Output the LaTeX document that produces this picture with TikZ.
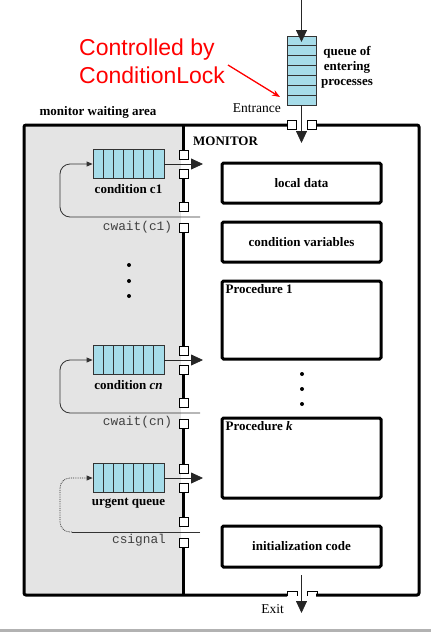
\documentclass[tikz,border=0pt]{standalone}
\usepackage{fontspec}
\setmainfont{Liberation Serif}
\setmonofont{Liberation Mono}
\newfontfamily\lockfont{Liberation Sans}
\usetikzlibrary{positioning,calc,arrows.meta}
\definecolor{qblue}{RGB}{166,220,233}
\definecolor{areagray}{RGB}{228,228,228}

\begin{document}
\begin{tikzpicture}[x=1pt,y=-1pt,
  lbl/.style={font=\fontsize{13}{15}\selectfont\bfseries,inner sep=0},
  plain/.style={font=\fontsize{13.5}{15}\selectfont,inner sep=0},
  waitlbl/.style={font=\fontsize{12.8}{15}\selectfont\ttfamily,text=black!75,inner sep=0},
  queue/.style={draw=black!80,fill=qblue,line width=0.8pt,minimum width=71pt,
    minimum height=29pt,inner sep=0,
    path picture={\foreach \i in {1,...,6}
      \draw[line width=0.8pt] ($(path picture bounding box.south west)!\i/7!(path picture bounding box.south east)$)
        -- ($(path picture bounding box.north west)!\i/7!(path picture bounding box.north east)$);}},
  inqueue/.style={draw=black!80,fill=qblue,line width=0.8pt,minimum width=29pt,
    minimum height=69pt,inner sep=0,
    path picture={\foreach \i in {1,...,6}
      \draw[line width=0.8pt] ($(path picture bounding box.north west)!\i/7!(path picture bounding box.south west)$)
        -- ($(path picture bounding box.north east)!\i/7!(path picture bounding box.south east)$);}},
  gate/.style={draw,fill=white,line width=0.7pt,minimum size=9pt,inner sep=0},
  gap/.style={fill=white,minimum width=5pt,minimum height=11pt,inner sep=0},
  box/.style={draw,line width=3pt,rounded corners=1.5pt,minimum width=159pt,inner sep=0,
    font=\fontsize{13}{15}\selectfont\bfseries},
  bigarrow/.style={-{Triangle[length=12pt,width=11pt]},line width=0.8pt,draw=black!85},
  loopline/.style={-{Triangle[length=6pt,width=5pt]},line width=0.8pt,draw=black!80,rounded corners=10pt}]
 \useasboundingbox (0,0) rectangle (431,632);
 \fill[black!30] (0,629) rectangle (431,632);

 % waiting area and monitor walls
 \fill[areagray] (24,125) rectangle (183.5,595);
 \draw[line width=3pt,rounded corners=2pt] (287,125) -- (24,125) -- (24,595) -- (287,595);
 \draw[line width=3pt,rounded corners=2pt] (316,595) -- (419,595) -- (419,125) -- (316,125);
 \draw[line width=3pt] (183.5,125) -- (183.5,595);

 \node[lbl] (area) at (98,112) {monitor waiting area};
 \node[lbl,anchor=west] (mon) at (193,141) {MONITOR};

 % entrance
 \node[inqueue] (qe) at (301.5,70.5) {};
 \coordinate (top) at (301.5,0);
 \coordinate (qin) at (301.5,42);
 \coordinate (enter) at (301.5,143);
 \draw[bigarrow] (top) -- (qin);
 \draw[bigarrow] (qe) -- (enter);
 \node[gate] (ent1) at (291.5,125) {};
 \node[gate] (ent2) at (311.5,125) {};
 \node[lbl,align=center] (qtext) at (347,67) {queue of\\entering\\processes};
 \node[plain,anchor=east] (entr) at (281,108) {Entrance};

 \node[font=\lockfont\fontsize{23}{27.3}\selectfont,text=red,align=left,anchor=west,inner sep=0]
   (lock) at (79,61.3) {Controlled by\\ConditionLock};
 \coordinate (lockfrom) at (228,65);
 \coordinate (lockto) at (280,97);
 \draw[red,line width=1.3pt,-{Stealth[length=8pt,width=6pt]}] (lockfrom) -- (lockto);

 % gates in the wall
 \foreach \g/\y in {a/164,c/360,e/478} {
   \node[gap] (gap\g) at (183.5,\y) {};
   \node[gate] (\g1) at (183.5,\y-9.5) {};
   \node[gate] (\g2) at (183.5,\y+9.5) {};
 }
 \foreach \g/\y in {b/217,d/413,f/532} {
   \node[gap] (gap\g) at (183.5,\y) {};
   \node[gate] (\g1) at (183.5,\y-10.5) {};
   \node[gate] (\g2) at (183.5,\y+10.5) {};
 }

 % condition c1
 \node[queue] (q1) at (128.5,164) {};
 \node[lbl,below=5pt of q1] (q1lbl) {condition c1};
 \coordinate (t1) at (203,164);
 \coordinate (w1) at (200,217);
 \draw[bigarrow] (q1) -- (t1);
 \draw[loopline] (w1) -- (60,217) -- (60,164) -- (q1);
 \node[waitlbl] (q1wait) at (137.5,227) {cwait(c1)};

 \foreach \y in {265,281,296} \fill (129,\y) circle[radius=2pt];

 % condition cn
 \node[queue] (qn) at (128.5,360) {};
 \node[lbl,below=5pt of qn] (qnlbl) {condition \textit{cn}};
 \coordinate (tn) at (203,360);
 \coordinate (wn) at (200,413);
 \draw[bigarrow] (qn) -- (tn);
 \draw[loopline] (wn) -- (60,413) -- (60,360) -- (qn);
 \node[waitlbl] (qnwait) at (137.5,422) {cwait(cn)};

 % urgent queue
 \node[queue] (qu) at (128.5,478) {};
 \node[lbl,below=5pt of qu] (qulbl) {urgent queue};
 \coordinate (tu) at (203,478);
 \coordinate (wu) at (200,532);
 \coordinate (ucorner) at (72,532);
 \draw[bigarrow] (qu) -- (tu);
 \draw[line width=0.8pt,draw=black!80] (wu) -- (ucorner);
 \draw[loopline,densely dotted] (ucorner) -- (60,532) -- (60,478) -- (qu);
 \node[waitlbl] (qusig) at (139,540) {csignal};

 % monitor contents
 \node[box,minimum height=40pt] (data) at (301.5,183) {local data};
 \node[box,minimum height=40pt] (cvars) at (301.5,242) {condition variables};
 \node[box,minimum height=78pt] (proc1) at (301.5,320) {};
 \node[lbl,anchor=north west] (p1lbl) at ($(proc1.north west)+(5,5)$) {Procedure 1};
 \foreach \y in {374,389,404} \fill (302,\y) circle[radius=2pt];
 \node[box,minimum height=80pt] (prock) at (301.5,458) {};
 \node[lbl,anchor=north west] (pklbl) at ($(prock.north west)+(5,5)$) {Procedure \textit{k}};
 \node[box,minimum height=41pt] (init) at (301.5,546.5) {initialization code};

 % exit
 \draw[line width=0.8pt] (287,596) -- (287,591) -- (297,591) -- (297,596);
 \draw[line width=0.8pt] (307,596) -- (307,591) -- (317,591) -- (317,596);
 \coordinate (exin) at (301.5,575);
 \coordinate (exout) at (301.5,613);
 \draw[bigarrow] (exin) -- (exout);
 \node[plain,anchor=east] (exitlbl) at (284,609) {Exit};
\end{tikzpicture}
\end{document}
